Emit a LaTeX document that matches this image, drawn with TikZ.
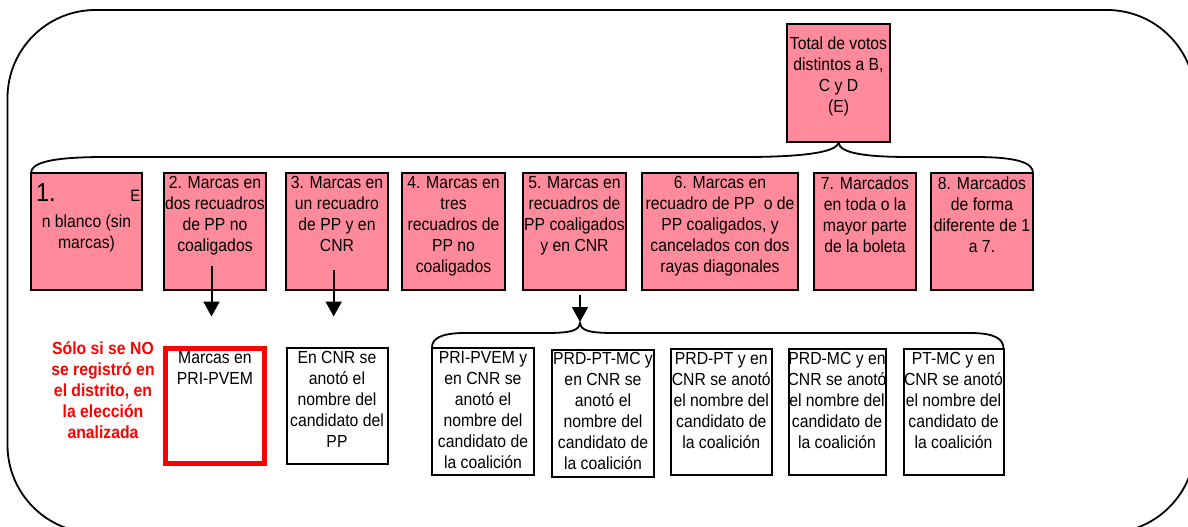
\documentclass[tikz,border=0pt]{standalone}
\usepackage{fontspec}
\setmainfont{Liberation Sans}[FakeStretch=0.9]
\usetikzlibrary{arrows.meta}
\definecolor{catpink}{RGB}{255,138,155}
\definecolor{notered}{RGB}{255,0,0}

\begin{document}
\begin{tikzpicture}[x=1pt,y=-1pt,
  catbox/.style={anchor=north west,draw,line width=2pt,fill=catpink,minimum height=117pt,inner sep=0pt,outer sep=0pt},
  subbox/.style={anchor=north west,draw,line width=2pt,fill=white,inner sep=0pt,outer sep=0pt},
  txt/.style={anchor=north,align=center,inner sep=0pt,font=\fontsize{17.5}{21}\selectfont},
  brace/.style={line width=1.8pt},
  arr/.style={line width=2pt,-{Triangle[length=15pt,width=16pt]}}]

\useasboundingbox (0,0) rectangle (1188,527);
\clip (0,0) rectangle (1188,527);
\draw[line width=1.8pt,rounded corners=88pt] (7.5,10) rectangle (1195,533);

%%%%%%%%%%%%%%%%%%%%%%%%%%
\node[catbox,minimum width=103pt,minimum height=118pt] (total) at (787,24) {};
\node[txt] (total-1) at ([yshift=-12.5pt]total.north) {Total de votos\\distintos a B,\\C y D\\(E)};

%%%%%%%%%%%%%%%%%%%%%%%%%%
\node[catbox,minimum width=111pt] (cat1) at (31,173) {};
\node[anchor=base west,inner sep=0pt,font=\fontsize{26}{26}\selectfont] (cat1-1) at ([xshift=5pt,yshift=-28pt]cat1.north west) {1.};
\node[anchor=base east,inner sep=0pt,font=\fontsize{16.5}{16.5}\selectfont] (cat1-2) at ([xshift=-1.5pt,yshift=-28pt]cat1.north east) {E};
\node[txt] (cat1-3) at ([yshift=-42pt]cat1.north) {n blanco (sin\\marcas)};

\node[catbox,minimum width=102pt] (cat2) at ([xshift=22pt]cat1.north east) {};
\node[txt] (cat2-1) at ([yshift=-3.5pt]cat2.north) {2. Marcas en\\dos recuadros\\de PP no\\coaligados};

\node[catbox,minimum width=102pt] (cat3) at ([xshift=20pt]cat2.north east) {};
\node[txt] (cat3-1) at ([yshift=-3.5pt]cat3.north) {3. Marcas en\\un recuadro\\de PP y en\\CNR};

\node[catbox,minimum width=103pt] (cat4) at ([xshift=14pt]cat3.north east) {};
\node[txt] (cat4-1) at ([yshift=-3.5pt]cat4.north) {4. Marcas en\\tres\\recuadros de\\PP no\\coaligados};

\node[catbox,minimum width=103pt] (cat5) at ([xshift=18pt]cat4.north east) {};
\node[txt] (cat5-1) at ([yshift=-3.5pt]cat5.north) {5. Marcas en\\recuadros de\\PP coaligados\\y en CNR};

\node[catbox,minimum width=156pt] (cat6) at ([xshift=16pt]cat5.north east) {};
\node[txt] (cat6-1) at ([yshift=-3.5pt]cat6.north) {6. Marcas en\\recuadro de PP\ \ o de\\PP coaligados, y\\cancelados con dos\\rayas diagonales};

\node[catbox,minimum width=102pt] (cat7) at ([xshift=16pt]cat6.north east) {};
\node[txt] (cat7-1) at ([yshift=-3.5pt]cat7.north) {7. Marcados\\en toda o la\\mayor parte\\de la boleta};

\node[catbox,minimum width=102pt] (cat8) at ([xshift=15pt]cat7.north east) {};
\node[txt] (cat8-1) at ([yshift=-3.5pt]cat8.north) {8. Marcados\\de forma\\diferente de 1\\a 7.};

\draw[brace] (total.south) .. controls +(0,12) and +(45,0) .. (745,157) -- (105,157) .. controls (50,157) and (31,163) .. (cat1.north west);
\draw[brace] (total.south) .. controls +(0,12) and +(-40,0) .. (910,157) -- (975,157) .. controls (1018,157) and (1033,163) .. (cat8.north east);

%%%%%%%%%%%%%%%%%%%%%%%%%%
\node[txt,font=\bfseries\fontsize{17.5}{21}\selectfont,text=notered] (note) at (103,341.5) {Sólo si se NO\\se registró en\\el distrito, en\\la elección\\analizada};

\node[subbox,draw=notered,line width=5pt,minimum width=99pt,minimum height=115pt] (sub1) at (165.5,348.5) {};
\node[txt] (sub1-1) at ([yshift=-3pt]sub1.north) {Marcas en\\PRI-PVEM};

\node[subbox,minimum width=101pt,minimum height=116pt] (sub2) at (286.5,347.5) {};
\node[txt] (sub2-1) at ([yshift=-4pt]sub2.north) {En CNR se\\anotó el\\nombre del\\candidato del\\PP};

\draw[arr] ([xshift=-3.5pt,yshift=24pt]cat2.south) -- ([xshift=-3.5pt,yshift=32pt]sub1.north);
\draw[arr] ([xshift=-3.3pt,yshift=20pt]cat3.south) -- ([xshift=-3.3pt,yshift=31pt]sub2.north);

%%%%%%%%%%%%%%%%%%%%%%%%%%
\node[subbox,minimum width=102pt,minimum height=127pt] (coal1) at (432,347.5) {};
\node[txt] (coal1-1) at ([yshift=-3.5pt]coal1.north) {PRI-PVEM y\\en CNR se\\anotó el\\nombre del\\candidato de\\la coalición};

\node[subbox,minimum width=102pt,minimum height=127pt] (coal2) at ([xshift=18pt,yshift=-2pt]coal1.north east) {};
\node[txt] (coal2-1) at ([yshift=-3pt]coal2.north) {PRD-PT-MC y\\en CNR se\\anotó el\\nombre del\\candidato de\\la coalición};

\node[subbox,minimum width=101.5pt,minimum height=126.5pt] (coal3) at ([xshift=16.5pt,yshift=1pt]coal2.north east) {};
\node[txt] (coal3-1) at ([yshift=-4pt]coal3.north) {PRD-PT y en\\CNR se anotó\\el nombre del\\candidato de\\la coalición};

\node[subbox,minimum width=97pt,minimum height=126.5pt] (coal4) at ([xshift=16.5pt]coal3.north east) {};
\node[txt] (coal4-1) at ([yshift=-4pt]coal4.north) {PRD-MC y en\\CNR se anotó\\el nombre del\\candidato de\\la coalición};

\node[subbox,minimum width=100pt,minimum height=126.5pt] (coal5) at ([xshift=18pt]coal4.north east) {};
\node[txt] (coal5-1) at ([yshift=-4pt]coal5.north) {PT-MC y en\\CNR se anotó\\el nombre del\\candidato de\\la coalición};

\coordinate (fork) at ([xshift=5.5pt,yshift=-32pt]cat5.south);
\draw[arr] ([xshift=5.5pt,yshift=-5pt]cat5.south) -- (fork);
\draw[brace] (fork) .. controls +(0,9) and +(25,0) .. (545,333) -- (465,333) .. controls (440,333) and (432,339) .. (coal1.north west);
\draw[brace] (fork) .. controls +(0,9) and +(-25,0) .. (615,333) -- (970,333) .. controls (995,333) and (1003.5,339) .. (coal5.north east);

\end{tikzpicture}
\end{document}
